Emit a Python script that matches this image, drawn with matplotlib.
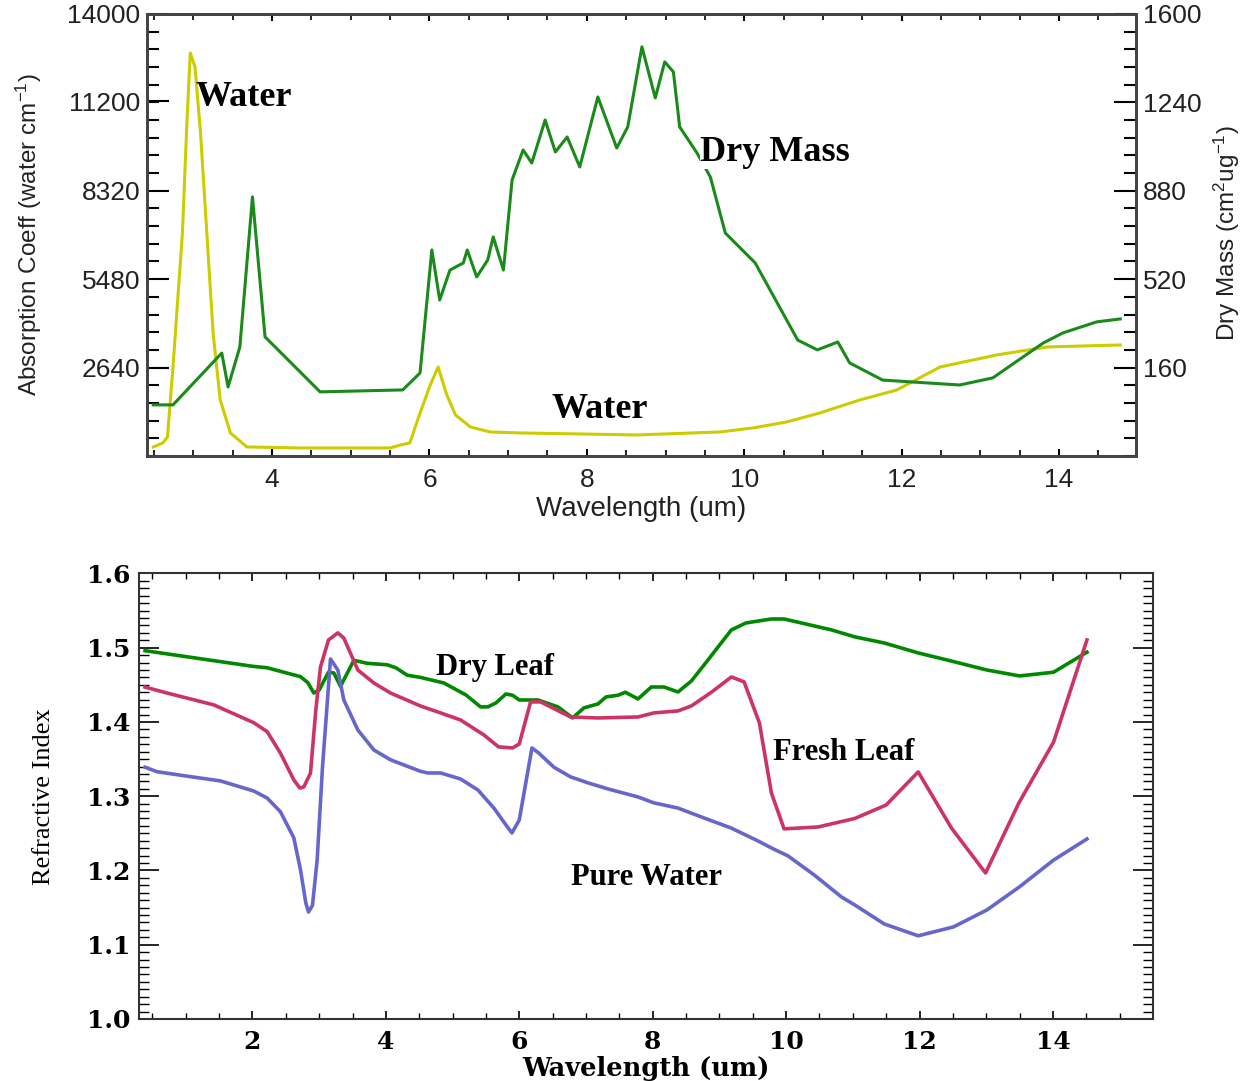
import numpy as np
import matplotlib
matplotlib.use('Agg')
import matplotlib.pyplot as plt

plt.rcParams['mathtext.default'] = 'regular'

# ─── Top panel: absorption spectra ───
water_wl = [2.49, 2.61, 2.67, 2.74, 2.86, 2.92, 2.96, 3.02, 3.09, 3.17, 3.25, 3.34,
            3.47, 3.68, 4.36, 5.50, 5.63, 5.75, 5.88, 6.01, 6.11, 6.22, 6.33, 6.52,
            6.77, 7.15, 7.91, 8.64, 9.69, 10.11, 10.54, 10.96, 11.47, 11.94, 12.49,
            13.21, 13.85, 14.78]
water_abs = [89, 218, 410, 2659, 6964, 10691, 12747, 12297, 10177, 6964, 3752, 1599,
             539, 89, 57, 57, 153, 218, 1181, 2081, 2659, 1760, 1117, 732,
             571, 539, 507, 475, 571, 700, 892, 1181, 1599, 1920, 2659,
             3045, 3302, 3366]

dry_wl = [2.49, 2.74, 3.36, 3.44, 3.59, 3.75, 3.91, 4.61, 5.66, 5.88, 6.03, 6.13,
          6.26, 6.43, 6.48, 6.60, 6.74, 6.81, 6.94, 7.05, 7.19, 7.30, 7.47, 7.60,
          7.75, 7.91, 8.14, 8.38, 8.52, 8.70, 8.87, 8.99, 9.10, 9.18, 9.40, 9.57,
          9.76, 10.14, 10.68, 10.93, 11.19, 11.34, 11.76, 12.74, 13.16, 13.80,
          14.05, 14.48, 14.78]
dry_mass = [8, 8, 219, 81, 244, 855, 285, 61, 69, 138, 639, 435,
            557, 586, 639, 529, 598, 692, 557, 924, 1046, 993, 1168, 1038,
            1099, 977, 1262, 1054, 1140, 1466, 1258, 1405, 1364, 1140, 1034, 936,
            708, 586, 272, 232, 264, 179, 109, 89, 118, 260,
            301, 346, 358]

left_ticks = [2640, 5480, 8320, 11200, 14000]
right_ticks = [160, 520, 880, 1240, 1600]
top_xticks = [4, 6, 8, 10, 12, 14]

# ─── Bottom panel: refractive index ───
leaf_dry_wl = [0.39, 2.0, 2.22, 2.72, 2.83, 2.92, 3.0, 3.14, 3.22, 3.32, 3.52, 3.72,
               4.02, 4.15, 4.32, 4.52, 4.87, 5.2, 5.42, 5.53, 5.65, 5.80, 5.90, 6.0,
               6.28, 6.58, 6.80, 6.97, 7.18, 7.30, 7.48, 7.59, 7.78, 7.98, 8.17,
               8.38, 8.58, 8.77, 8.98, 9.18, 9.40, 9.78, 9.97, 10.68, 11.03, 11.47,
               11.98, 12.48, 13.01, 13.50, 14.01, 14.51]
leaf_dry_n = [1.496, 1.475, 1.473, 1.461, 1.453, 1.439, 1.443, 1.467, 1.466, 1.448,
              1.483, 1.479, 1.477, 1.473, 1.463, 1.460, 1.4525, 1.4364, 1.4203,
              1.4203, 1.4256, 1.4377, 1.436, 1.4296, 1.4296, 1.4203, 1.4054, 1.419,
              1.4243, 1.4337, 1.436, 1.440, 1.431, 1.4471, 1.4471, 1.4404, 1.4552,
              1.4767, 1.501, 1.524, 1.5334, 1.5387, 1.5387, 1.524, 1.5146, 1.5064,
              1.493, 1.482, 1.470, 1.462, 1.467, 1.494]

leaf_fresh_wl = [0.39, 0.72, 1.42, 2.02, 2.22, 2.42, 2.62, 2.71, 2.77, 2.87, 2.95,
                 3.02, 3.14, 3.28, 3.37, 3.58, 3.82, 4.07, 4.52, 4.82, 5.12, 5.47,
                 5.69, 5.90, 6.0, 6.17, 6.32, 6.77, 7.18, 7.78, 8.02, 8.38, 8.58,
                 8.88, 9.18, 9.37, 9.60, 9.78, 9.97, 10.48, 11.03, 11.50, 11.98,
                 12.48, 12.99, 13.49, 14.01, 14.51]
leaf_fresh_n = [1.447, 1.439, 1.423, 1.399, 1.387, 1.358, 1.322, 1.311, 1.3125,
                1.331, 1.416, 1.474, 1.5104, 1.520, 1.513, 1.470, 1.4525, 1.439,
                1.4215, 1.4122, 1.4027, 1.3825, 1.3664, 1.365, 1.3704, 1.427, 1.427,
                1.4067, 1.4054, 1.4067, 1.4122, 1.4149, 1.4216, 1.440, 1.4606, 1.454,
                1.3987, 1.3044, 1.256, 1.2586, 1.270, 1.2882, 1.3327, 1.257, 1.1966,
                1.291, 1.373, 1.5104]

pure_wl = [0.39, 0.57, 1.02, 1.52, 2.02, 2.22, 2.42, 2.62, 2.72, 2.80, 2.84, 2.90,
           2.97, 3.05, 3.17, 3.28, 3.37, 3.58, 3.82, 4.07, 4.52, 4.63, 4.82, 5.12,
           5.38, 5.62, 5.80, 5.89, 6.0, 6.19, 6.29, 6.52, 6.77, 7.03, 7.33, 7.78,
           8.02, 8.38, 8.77, 9.18, 9.58, 9.78, 10.03, 10.42, 10.83, 11.03, 11.47,
           11.98, 12.51, 13.01, 13.50, 14.01, 14.51]
pure_n = [1.339, 1.333, 1.327, 1.3206, 1.307, 1.2976, 1.279, 1.244, 1.201, 1.1563,
          1.144, 1.153, 1.214, 1.339, 1.4848, 1.470, 1.4296, 1.3892, 1.3623, 1.349,
          1.3335, 1.3313, 1.3313, 1.3232, 1.3084, 1.284, 1.2613, 1.2505, 1.268,
          1.365, 1.3583, 1.339, 1.326, 1.318, 1.3098, 1.299, 1.291, 1.284, 1.2707,
          1.257, 1.2397, 1.2303, 1.2195, 1.194, 1.1643, 1.1535, 1.128, 1.112, 1.124,
          1.1468, 1.178, 1.214, 1.2424]

bot_xticks = [2, 4, 6, 8, 10, 12, 14]
bot_yticks = [1.0, 1.1, 1.2, 1.3, 1.4, 1.5, 1.6]

YELLOW = '#cccc00'
GREEN_TOP = '#1a8a1a'
GREEN = '#008800'
RED = '#cc3366'
BLUE = '#6666cc'
INK = '#222222'

fig = plt.figure(figsize=(12.47, 10.81), dpi=100)

# ─── Top ───
ax = fig.add_axes([0.1179, 0.5782, 0.7931, 0.4089])
ax.plot(water_wl, water_abs, color=YELLOW, lw=2.2)
ax.set_xlim(2.41, 14.98)
ax.set_ylim(-200, 14000)
ax.set_yticks(left_ticks)
ax.set_yticklabels([str(t) for t in left_ticks])
ax.set_yticks(np.arange(-200, 14001, 568), minor=True)
ax.set_xticks(top_xticks)
ax.set_xticks(np.arange(2.5, 15.0, 0.5), minor=True)
ax.tick_params(axis='y', which='major', direction='in', length=16, width=1.5,
               labelsize=19, pad=5)
ax.tick_params(axis='y', which='minor', direction='in', length=8.5, width=1.5)
ax.tick_params(axis='x', which='major', direction='in', length=5, width=1.5,
               top=True, labelsize=19, pad=9)
ax.tick_params(axis='x', which='minor', direction='in', length=4, width=1.2, top=True)
for s in ax.spines.values():
    s.set_color('#444444'); s.set_linewidth(2)
for lab in ax.get_xticklabels() + ax.get_yticklabels():
    lab.set_family('Liberation Sans'); lab.set_color(INK)
ax.set_xlabel('Wavelength (um)', fontsize=20, family='Liberation Sans', color=INK)
ax.xaxis.set_label_coords(0.50, -0.09)
ax.set_ylabel('Absorption Coeff (water cm$^{-1}$)', fontsize=17.5,
              family='Liberation Sans', color=INK)
ax.yaxis.set_label_coords(-0.104, 0.5)

ax2 = ax.twinx()
ax2.plot(dry_wl, dry_mass, color=GREEN_TOP, lw=2.2)
ax2.set_ylim(-200, 1600)
ax2.set_yticks(right_ticks)
ax2.set_yticks(np.arange(-200, 1601, 72), minor=True)
ax2.tick_params(axis='y', which='major', direction='in', length=16, width=1.5,
                labelsize=19, pad=5)
ax2.tick_params(axis='y', which='minor', direction='in', length=8.5, width=1.5)
for s in ax2.spines.values():
    s.set_color('#444444'); s.set_linewidth(2)
for lab in ax2.get_yticklabels():
    lab.set_family('Liberation Sans'); lab.set_color(INK)
ax2.set_ylabel('Dry Mass (cm$^2$ug$^{-1}$)', fontsize=17.5, family='Liberation Sans',
               color=INK)
ax2.yaxis.set_label_coords(1.077, 0.505)

tfont = dict(family='Liberation Serif', weight='bold', fontsize=26, va='center')
ax.text(3.02, 11300, 'Water', **tfont)
ax.text(7.545, 1280, 'Water', **tfont)
ax2.text(9.44, 1034, 'Dry Mass', bbox=dict(facecolor='white', edgecolor='none', pad=0),
         zorder=5, **tfont)

# ─── Bottom ───
bx = fig.add_axes([0.1115, 0.0574, 0.8131, 0.4121])
bx.plot(leaf_dry_wl, leaf_dry_n, color=GREEN, lw=2.6)
bx.plot(leaf_fresh_wl, leaf_fresh_n, color=RED, lw=2.6)
bx.plot(pure_wl, pure_n, color=BLUE, lw=2.6)
bx.set_xlim(0.3, 15.5)
bx.set_ylim(1.0, 1.6)
bx.set_xticks(bot_xticks)
bx.set_xticks(np.arange(0.5, 15.5, 0.5), minor=True)
bx.set_yticks(bot_yticks)
bx.set_yticklabels(['%.1f' % t for t in bot_yticks])
bx.set_yticks(np.arange(1.0, 1.6001, 0.01), minor=True)
bx.tick_params(axis='y', which='major', direction='in', length=14.5, width=1.2,
               right=True, labelsize=18, pad=6)
bx.tick_params(axis='y', which='minor', direction='in', length=7.5, width=1.0, right=True)
bx.tick_params(axis='x', which='major', direction='in', length=6, width=1.2,
               top=True, labelsize=18, pad=8)
bx.tick_params(axis='x', which='minor', direction='in', length=4, width=1.0, top=True)
for s in bx.spines.values():
    s.set_color('#333333'); s.set_linewidth(1.5)
for lab in bx.get_xticklabels() + bx.get_yticklabels():
    lab.set_family('DejaVu Serif'); lab.set_weight('bold')
bx.set_xlabel('Wavelength (um)', fontsize=18.5, family='DejaVu Serif', weight='bold')
bx.xaxis.set_label_coords(0.50, -0.084)
bx.set_ylabel('Refractive Index', fontsize=19, family='Liberation Serif')
bx.yaxis.set_label_coords(-0.083, 0.5)

bfont = dict(family='Liberation Serif', weight='bold', fontsize=22, va='center')
bx.text(4.75, 1.4727, 'Dry Leaf', **bfont)
bx.text(9.81, 1.3583, 'Fresh Leaf', **bfont)
bx.text(6.77, 1.190, 'Pure Water', **bfont)

fig.savefig('out.png', dpi=100)
